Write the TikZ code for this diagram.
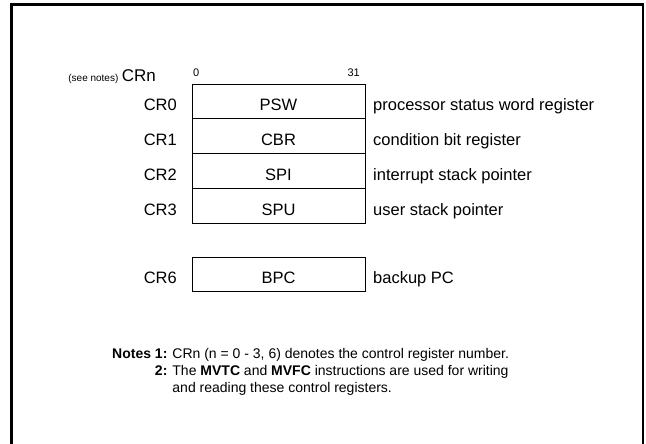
\documentclass[tikz,border=0pt]{standalone}
\usepackage{fontspec}
\setmainfont{Liberation Sans}
\usetikzlibrary{positioning}

\begin{document}
\begin{tikzpicture}[x=1pt, y=-1pt,
    every node/.append style={font=\fontsize{16.5}{19}\selectfont, inner sep=0pt},
    reg/.style={draw, line width=0.9pt, outer sep=0pt,
      minimum width=173pt, minimum height=34.75pt, text height=19pt, text depth=0pt},
    crname/.style={anchor=base east},
    regdesc/.style={anchor=base west},
    bitno/.style={font=\fontsize{11}{13}\selectfont}]
    \useasboundingbox (0,0) rectangle (646,444);
    % outer frame, open at the bottom
    \draw[line width=2.5pt] (11.5,447) -- (11.5,4.5) -- (643,4.5) -- (643,447);

    % register stack
    \node (PSW) [reg, anchor=north west] at (192,84) {PSW};
    \node (CBR) [reg, below=0pt of PSW] {CBR};
    \node (SPI) [reg, below=0pt of CBR] {SPI};
    \node (SPU) [reg, below=0pt of SPI] {SPU};
    \node (BPC) [reg, anchor=north west] at (192,257) {BPC};

    \foreach \reg/\num/\desc in {PSW/0/processor status word register,
        CBR/1/condition bit register, SPI/2/interrupt stack pointer,
        SPU/3/user stack pointer, BPC/6/backup PC} {
      \node (CR\num) [crname] at ([xshift=-15pt]\reg.base west) {CR\num};
      \node (desc\num) [regdesc] at ([xshift=8pt]\reg.base east) {\desc};
    }

    % header
    \node (bit0) [bitno, anchor=base west] at ([xshift=1pt,yshift=7pt]PSW.north west) {0};
    \node (bit31) [bitno, anchor=base east] at ([xshift=-5pt,yshift=7pt]PSW.north east) {31};
    \node (CRn) [anchor=base east, font=\fontsize{17}{20}\selectfont] at (156,82) {CRn};
    \node (seenotes) [anchor=base east, font=\fontsize{10}{12}\selectfont]
      at ([xshift=-3pt]CRn.base west) {(see notes)};

    % notes
    \node (notes) [anchor=base west, font=\fontsize{14}{17}\selectfont] at (112,358) {%
      \begin{tabular}[t]{@{}r@{\hspace{5pt}}l@{}}
        \textbf{Notes 1:} & CRn (n = 0 - 3, 6) denotes the control register number.\\
        \textbf{2:} & The \textbf{MVTC} and \textbf{MVFC} instructions are used for writing\\
        & and reading these control registers.
      \end{tabular}};
\end{tikzpicture}
\end{document}
